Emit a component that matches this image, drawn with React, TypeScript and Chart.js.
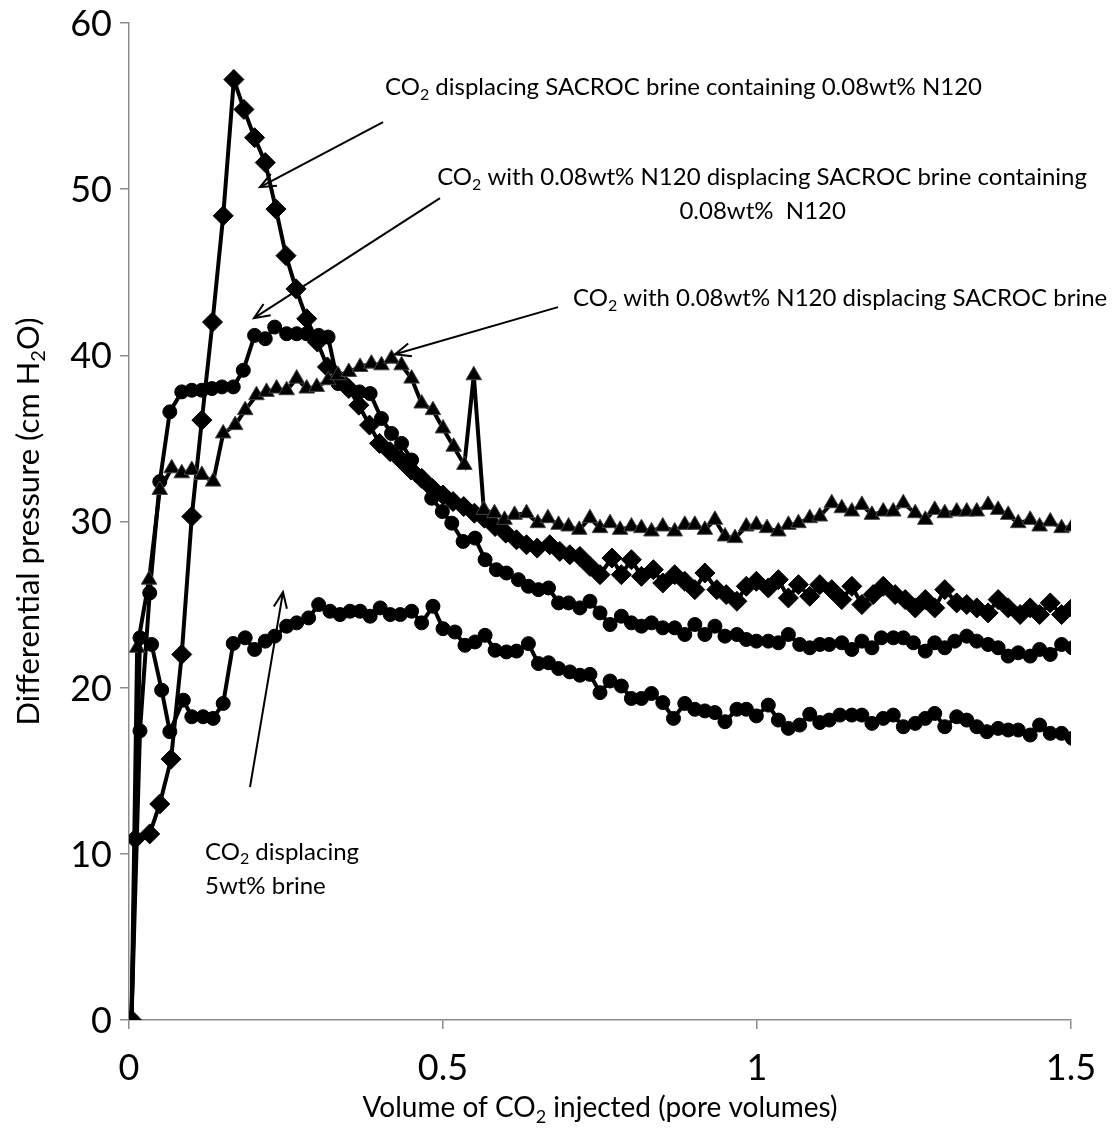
import React, { useEffect, useRef } from "react";
import { Chart, registerables } from "chart.js";

Chart.register(...registerables);

const FONT = "Lato, 'Open Sans', sans-serif";

// CO2 displacing SACROC brine containing 0.08wt% N120 (diamonds)
const seriesSacrocN120Brine: [number, number][] = [
  [0.004, 0], [0.010, 10.9], [0.033, 11.2], [0.049, 13.0], [0.067, 15.7], [0.084, 22.0],
  [0.100, 30.3], [0.116, 36.1], [0.133, 42.0], [0.150, 48.4], [0.167, 56.6], [0.183, 54.8],
  [0.200, 53.1], [0.217, 51.6], [0.234, 48.8], [0.250, 46.0], [0.266, 44.0], [0.283, 42.2],
  [0.300, 40.8], [0.316, 39.3], [0.333, 38.6], [0.350, 38.0], [0.366, 37.0], [0.383, 35.8],
  [0.399, 34.7], [0.416, 34.2], [0.433, 33.7], [0.449, 33.1], [0.466, 32.6], [0.483, 32.0],
  [0.500, 31.6], [0.516, 31.2], [0.533, 30.9], [0.550, 30.5], [0.566, 30.2], [0.583, 29.7],
  [0.600, 29.3], [0.617, 28.9], [0.633, 28.6], [0.650, 28.4], [0.670, 28.6], [0.686, 28.2],
  [0.702, 28.0], [0.718, 27.9], [0.734, 27.3], [0.750, 26.8], [0.769, 27.8], [0.784, 26.8],
  [0.800, 27.7], [0.816, 26.7], [0.835, 27.1], [0.850, 26.3], [0.869, 26.8], [0.885, 26.4],
  [0.901, 25.9], [0.917, 26.9], [0.936, 25.9], [0.951, 25.6], [0.968, 25.2], [0.983, 26.1],
  [0.999, 26.4], [1.018, 26.0], [1.034, 26.5], [1.050, 25.4], [1.066, 26.2], [1.084, 25.5],
  [1.100, 26.2], [1.119, 25.9], [1.135, 25.3], [1.151, 26.1], [1.167, 25.0], [1.185, 25.6],
  [1.201, 26.1], [1.220, 25.6], [1.236, 25.3], [1.252, 24.8], [1.268, 25.3], [1.283, 24.8],
  [1.299, 25.9], [1.318, 25.1], [1.334, 25.0], [1.350, 24.8], [1.368, 24.5], [1.384, 25.3],
  [1.400, 24.8], [1.419, 24.4], [1.435, 24.8], [1.450, 24.4], [1.467, 25.1], [1.485, 24.4],
  [1.502, 24.8],
];

// CO2 with 0.08wt% N120 displacing SACROC brine containing 0.08wt% N120 (circles, upper)
const seriesN120IntoN120Brine: [number, number][] = [
  [0.004, 0], [0.0175, 17.4], [0.033, 25.7], [0.049, 32.4], [0.065, 36.6], [0.084, 37.8],
  [0.100, 37.9], [0.116, 37.9], [0.132, 38.0], [0.148, 38.1], [0.166, 38.1], [0.182, 39.1],
  [0.200, 41.2], [0.217, 41.0], [0.232, 41.7], [0.251, 41.3], [0.267, 41.3], [0.283, 41.3],
  [0.302, 41.2], [0.317, 41.1], [0.333, 38.3], [0.350, 38.0], [0.367, 37.8], [0.384, 37.7],
  [0.402, 36.2], [0.418, 35.3], [0.434, 34.7], [0.450, 33.7], [0.463, 32.7], [0.482, 31.4],
  [0.499, 30.6], [0.514, 29.9], [0.532, 28.8], [0.551, 29.0], [0.567, 27.7], [0.585, 27.1],
  [0.601, 26.9], [0.620, 26.5], [0.636, 26.1], [0.652, 25.9], [0.668, 26.0], [0.684, 25.1],
  [0.700, 25.1], [0.718, 24.8], [0.734, 25.2], [0.750, 24.5], [0.766, 23.8], [0.784, 24.3],
  [0.800, 23.9], [0.816, 23.7], [0.832, 23.9], [0.850, 23.6], [0.869, 23.6], [0.885, 23.2],
  [0.901, 23.8], [0.917, 23.2], [0.933, 23.7], [0.949, 23.1], [0.968, 23.2], [0.983, 22.9],
  [0.999, 22.8], [1.018, 22.8], [1.034, 22.7], [1.050, 23.2], [1.068, 22.6], [1.084, 22.4],
  [1.100, 22.6], [1.115, 22.6], [1.135, 22.7], [1.151, 22.3], [1.167, 22.8], [1.183, 22.4],
  [1.198, 23.0], [1.217, 23.0], [1.233, 23.0], [1.249, 22.7], [1.268, 22.2], [1.283, 22.7],
  [1.299, 22.4], [1.315, 22.8], [1.334, 23.1], [1.350, 22.8], [1.368, 22.6], [1.384, 22.4],
  [1.400, 21.9], [1.416, 22.1], [1.435, 21.9], [1.450, 22.3], [1.467, 22.0], [1.485, 22.6],
  [1.502, 22.4],
];

// CO2 with 0.08wt% N120 displacing SACROC brine (triangles)
const seriesN120IntoBrine: [number, number][] = [
  [0.004, 0], [0.013, 22.4], [0.032, 26.5], [0.049, 31.9], [0.068, 33.2], [0.084, 32.9],
  [0.100, 33.1], [0.116, 32.8], [0.134, 32.4], [0.150, 35.3], [0.169, 35.8], [0.185, 36.7],
  [0.203, 37.6], [0.219, 37.8], [0.235, 38.0], [0.251, 37.9], [0.267, 38.6], [0.283, 38.0],
  [0.299, 38.1], [0.317, 38.5], [0.333, 38.8], [0.350, 39.0], [0.368, 39.3], [0.386, 39.5],
  [0.402, 39.4], [0.418, 39.8], [0.434, 39.4], [0.450, 38.6], [0.466, 37.1], [0.484, 36.7],
  [0.500, 35.6], [0.517, 34.5], [0.534, 33.4], [0.549, 38.8], [0.565, 30.7], [0.582, 30.5],
  [0.598, 30.1], [0.614, 30.4], [0.633, 30.5], [0.651, 29.9], [0.667, 30.2], [0.684, 29.8],
  [0.700, 29.7], [0.717, 29.5], [0.734, 30.2], [0.750, 29.6], [0.766, 29.9], [0.782, 29.5],
  [0.800, 29.7], [0.816, 29.6], [0.832, 29.4], [0.850, 29.7], [0.869, 29.4], [0.885, 29.8],
  [0.901, 29.8], [0.917, 29.5], [0.933, 30.1], [0.949, 29.1], [0.965, 29.0], [0.983, 29.7],
  [0.999, 29.8], [1.016, 29.6], [1.034, 29.4], [1.050, 29.8], [1.066, 29.9], [1.084, 30.2],
  [1.100, 30.3], [1.119, 31.1], [1.135, 30.8], [1.151, 30.6], [1.167, 31.0], [1.183, 30.4],
  [1.201, 30.6], [1.217, 30.6], [1.233, 31.1], [1.252, 30.5], [1.268, 30.1], [1.283, 30.7],
  [1.299, 30.5], [1.318, 30.6], [1.334, 30.6], [1.350, 30.6], [1.368, 31.0], [1.384, 30.7],
  [1.400, 30.4], [1.416, 29.9], [1.435, 30.1], [1.450, 29.7], [1.467, 30.0], [1.485, 29.6],
  [1.502, 29.7],
];

// CO2 displacing 5wt% brine (circles, lower)
const seriesCo2Into5wtBrine: [number, number][] = [
  [0.004, 0], [0.0175, 23.0], [0.036, 22.6], [0.052, 19.85], [0.065, 17.35], [0.0865, 19.25],
  [0.100, 18.25], [0.118, 18.25], [0.134, 18.15], [0.150, 19.05], [0.166, 22.66], [0.185, 23.0],
  [0.200, 22.3], [0.217, 22.8], [0.232, 23.1], [0.251, 23.7], [0.267, 23.9], [0.286, 24.2],
  [0.302, 25.0], [0.320, 24.6], [0.336, 24.4], [0.352, 24.6], [0.368, 24.6], [0.384, 24.3],
  [0.400, 24.8], [0.416, 24.4], [0.432, 24.4], [0.450, 24.6], [0.466, 23.9], [0.484, 24.9],
  [0.500, 23.55], [0.519, 23.35], [0.535, 22.55], [0.551, 22.75], [0.567, 23.15], [0.583, 22.25],
  [0.601, 22.15], [0.617, 22.2], [0.636, 22.65], [0.652, 21.45], [0.668, 21.5], [0.684, 21.15],
  [0.702, 20.95], [0.718, 20.75], [0.734, 20.8], [0.750, 19.7], [0.766, 20.4], [0.784, 20.1],
  [0.800, 19.35], [0.816, 19.35], [0.832, 19.65], [0.850, 19.1], [0.867, 18.15], [0.885, 19.05],
  [0.901, 18.7], [0.917, 18.6], [0.933, 18.5], [0.949, 17.95], [0.968, 18.7], [0.983, 18.7],
  [0.999, 18.3], [1.018, 18.95], [1.034, 18.05], [1.050, 17.55], [1.068, 17.75], [1.084, 18.4],
  [1.100, 17.9], [1.115, 18.05], [1.132, 18.35], [1.151, 18.35], [1.167, 18.35], [1.183, 17.85],
  [1.201, 18.15], [1.217, 18.35], [1.233, 17.65], [1.252, 17.85], [1.268, 18.15], [1.283, 18.45],
  [1.299, 17.65], [1.318, 18.25], [1.334, 18.05], [1.350, 17.65], [1.366, 17.35], [1.384, 17.55],
  [1.400, 17.45], [1.416, 17.45], [1.435, 17.15], [1.450, 17.75], [1.467, 17.25], [1.485, 17.25],
  [1.502, 16.95],
];

const xTickValues = [0, 0.5, 1, 1.5];
const xTickLabels = ["0", "0.5", "1", "1.5"];
const yTickValues = [0, 10, 20, 30, 40, 50, 60];
const yTickLabels = ["0", "10", "20", "30", "40", "50", "60"];

type Seg = { t: string; sub?: boolean };

const xTitle: Seg[] = [{ t: "Volume of CO" }, { t: "2", sub: true }, { t: " injected (pore volumes)" }];
const yTitle: Seg[] = [{ t: "Differential pressure (cm H" }, { t: "2", sub: true }, { t: "O)" }];

// Callout texts, anchored in data coordinates
const callouts: { segs: Seg[]; x: number; y: number; align: "left" | "center" }[] = [
  { segs: [{ t: "CO" }, { t: "2", sub: true }, { t: " displacing SACROC brine containing 0.08wt% N120" }], x: 0.4076, y: 56.2, align: "left" },
  { segs: [{ t: "CO" }, { t: "2", sub: true }, { t: " with 0.08wt% N120 displacing SACROC brine containing" }], x: 1.008, y: 50.78, align: "center" },
  { segs: [{ t: "0.08wt%  N120" }], x: 1.009, y: 48.74, align: "center" },
  { segs: [{ t: "CO" }, { t: "2", sub: true }, { t: " with 0.08wt% N120 displacing SACROC brine" }], x: 0.707, y: 43.5, align: "left" },
  { segs: [{ t: "CO" }, { t: "2", sub: true }, { t: " displacing" }], x: 0.121, y: 10.17, align: "left" },
  { segs: [{ t: "5wt% brine" }], x: 0.121, y: 8.12, align: "left" },
];

// Arrows: [fromX, fromY, toX, toY] in data coordinates
const arrows: [number, number, number, number][] = [
  [0.4045, 54.03, 0.2086, 50.12],
  [0.4952, 49.46, 0.1990, 42.24],
  [0.6831, 42.9, 0.4236, 40.07],
  [0.1927, 14.02, 0.2452, 25.75],
];

function drawRich(
  ctx: CanvasRenderingContext2D,
  segs: Seg[],
  x: number,
  y: number,
  size: number,
  align: "left" | "center" | "right"
) {
  const mainF = `${size}px ${FONT}`;
  const subF = `${Math.round(size * 0.66)}px ${FONT}`;
  let w = 0;
  for (const s of segs) {
    ctx.font = s.sub ? subF : mainF;
    w += ctx.measureText(s.t).width;
  }
  let cx = align === "center" ? x - w / 2 : align === "right" ? x - w : x;
  const base = y + size * 0.36;
  ctx.textAlign = "left";
  ctx.textBaseline = "alphabetic";
  for (const s of segs) {
    ctx.font = s.sub ? subF : mainF;
    ctx.fillText(s.t, cx, s.sub ? base + size * 0.2 : base);
    cx += ctx.measureText(s.t).width;
  }
}

function drawArrow(ctx: CanvasRenderingContext2D, x1: number, y1: number, x2: number, y2: number) {
  ctx.beginPath();
  ctx.moveTo(x1, y1);
  ctx.lineTo(x2, y2);
  ctx.stroke();
  const a = Math.atan2(y2 - y1, x2 - x1);
  const L = 17;
  const sp = 0.4;
  ctx.beginPath();
  ctx.moveTo(x2 - L * Math.cos(a - sp), y2 - L * Math.sin(a - sp));
  ctx.lineTo(x2, y2);
  ctx.lineTo(x2 - L * Math.cos(a + sp), y2 - L * Math.sin(a + sp));
  ctx.stroke();
}

const annotationPlugin = {
  id: "calloutsAndTitles",
  afterDraw(chart: any) {
    const ctx: CanvasRenderingContext2D = chart.ctx;
    const xs = chart.scales.x;
    const ys = chart.scales.y;
    const area = chart.chartArea;
    ctx.save();
    ctx.fillStyle = "#000";
    ctx.strokeStyle = "#000";
    ctx.lineWidth = 2;
    for (const [fx, fy, tx, ty] of arrows) {
      drawArrow(ctx, xs.getPixelForValue(fx), ys.getPixelForValue(fy), xs.getPixelForValue(tx), ys.getPixelForValue(ty));
    }
    for (const c of callouts) {
      drawRich(ctx, c.segs, xs.getPixelForValue(c.x), ys.getPixelForValue(c.y), 24, c.align);
    }
    // tick labels
    yTickValues.forEach((v, i) => {
      drawRich(ctx, [{ t: yTickLabels[i] }], area.left - 17, ys.getPixelForValue(v), 36, "right");
    });
    xTickValues.forEach((v, i) => {
      drawRich(ctx, [{ t: xTickLabels[i] }], xs.getPixelForValue(v), area.bottom + 47, 36, "center");
    });
    // axis titles
    drawRich(ctx, xTitle, (area.left + area.right) / 2, area.bottom + 87, 28, "center");
    ctx.save();
    ctx.translate(28, (area.top + area.bottom) / 2);
    ctx.rotate(-Math.PI / 2);
    drawRich(ctx, yTitle, 0, 0, 31, "center");
    ctx.restore();
    ctx.restore();
  },
};

export default function App() {
  const ref = useRef<HTMLCanvasElement | null>(null);

  useEffect(() => {
    document.body.style.margin = "0";
    const canvas = ref.current;
    if (!canvas) return;
    const mk = (data: [number, number][], style: string, radius: number, border: string) => ({
      data: data.map(([x, y]) => ({ x, y })),
      borderColor: "#000",
      backgroundColor: "#000",
      borderWidth: 4,
      pointStyle: style,
      pointRadius: radius,
      pointBorderColor: border,
      pointBackgroundColor: "#000",
      pointBorderWidth: 1,
      showLine: true,
      tension: 0,
      fill: false,
    });
    const chart = new Chart(canvas, {
      type: "scatter",
      data: {
        datasets: [
          mk(seriesCo2Into5wtBrine, "circle", 7, "#000"),
          mk(seriesN120IntoBrine, "triangle", 9, "#444"),
          mk(seriesN120IntoN120Brine, "circle", 7, "#000"),
          mk(seriesSacrocN120Brine, "rectRot", 10, "#000"),
        ] as any,
      },
      options: {
        animation: false,
        responsive: true,
        maintainAspectRatio: false,
        layout: { padding: { top: 23, right: 41, left: 0, bottom: 0 } },
        plugins: { legend: { display: false }, tooltip: { enabled: false } },
        scales: {
          x: {
            type: "linear",
            min: 0,
            max: 1.5,
            afterBuildTicks: (s: any) => {
              s.ticks = xTickValues.map((v) => ({ value: v }));
            },
            afterFit: (s: any) => {
              s.height = 126;
            },
            ticks: { display: false },
            grid: { display: true, drawOnChartArea: false, drawTicks: true, tickLength: 9, color: "#8c8c8c", lineWidth: 1.5 },
            border: { display: true, color: "#8c8c8c", width: 1.5 },
          },
          y: {
            type: "linear",
            min: 0,
            max: 60,
            afterBuildTicks: (s: any) => {
              s.ticks = yTickValues.map((v) => ({ value: v }));
            },
            afterFit: (s: any) => {
              s.width = 129;
            },
            ticks: { display: false },
            grid: { display: true, drawOnChartArea: false, drawTicks: true, tickLength: 9, color: "#8c8c8c", lineWidth: 1.5 },
            border: { display: true, color: "#8c8c8c", width: 1.5 },
          },
        },
      },
      plugins: [annotationPlugin],
    });
    return () => chart.destroy();
  }, []);

  return (
    <div style={{ position: "fixed", left: 0, top: 0, width: 1112, height: 1146, background: "#fff" }}>
      <canvas ref={ref} />
    </div>
  );
}
